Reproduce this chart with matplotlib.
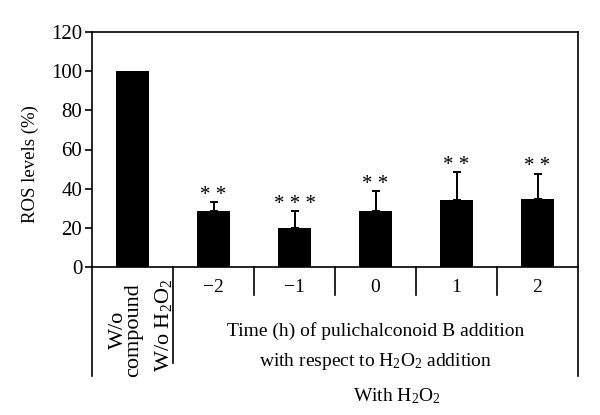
import matplotlib
matplotlib.use("Agg")
import matplotlib.pyplot as plt
from matplotlib.lines import Line2D

plt.rcParams['font.family'] = ['Liberation Serif', 'DejaVu Serif']
plt.rcParams['mathtext.fontset'] = 'custom'
plt.rcParams['mathtext.rm'] = 'Liberation Serif'
plt.rcParams['mathtext.it'] = 'Liberation Serif:italic'
plt.rcParams['mathtext.bf'] = 'Liberation Serif:bold'

# ---- data ----
categories = ["W/o compound W/o H2O2", "-2", "-1", "0", "1", "2"]
time_labels = ["\u22122", "\u22121", "0", "1", "2"]
ros_values = [100, 28.5, 20, 28.5, 34, 34.5]
ros_errors = [0, 4.5, 8.5, 10.2, 14.5, 13.2]
significance = ["", "* *", "* * *", "* *", "* *", "* *"]
yticks = [0, 20, 40, 60, 80, 100, 120]

fs = 14
fig = plt.figure(figsize=(6, 4.15), dpi=100)
ax = fig.add_axes([92/600, (415-267)/415, (578-92)/600, (267-32)/415])

x = list(range(len(ros_values)))
ax.bar(x, ros_values, width=0.41, color='black')
for xi, v, e in zip(x, ros_values, ros_errors):
    if e > 0:
        ax.errorbar([xi], [v], yerr=[[0], [e]], fmt='none', ecolor='black',
                    elinewidth=1.4, capsize=3, capthick=1.4)
for xi, v, e, s in zip(x, ros_values, ros_errors, significance):
    if s:
        ax.text(xi, v + e + 1.2, s, ha='center', va='baseline', fontsize=15)

ax.set_xlim(-0.5, len(x) - 0.5)
ax.set_ylim(0, 120)
ax.set_yticks(yticks)
ax.set_yticklabels([str(t) for t in yticks], fontsize=15)
ax.tick_params(axis='y', direction='out', length=5, width=1.2, pad=2)
ax.set_xticks([])
for sp in ax.spines.values():
    sp.set_linewidth(1.2)
ax.set_ylabel("ROS levels (%)", fontsize=13.5, labelpad=6)
ax.yaxis.set_label_coords(-0.109, (267-164)/235)

# ---- table-like x area ----
tr = ax.get_xaxis_transform()
def vline(xd, y0, y1):
    ax.add_line(Line2D([xd, xd], [y0, y1], transform=tr, color='black',
                       lw=1.2, clip_on=False))
y_bottom = -(376-267)/235
vline(-0.5, 0, y_bottom)
vline(len(x) - 0.5, 0, y_bottom)
vline(0.5, 0, -(363-267)/235)
for k in range(1, len(x) - 1):
    vline(k + 0.5, 0, -(295-267)/235)

for k, lab in enumerate(time_labels):
    ax.text(k + 1, -(287-267)/235, lab, transform=tr, ha='center', va='center', fontsize=fs)

ax.text(-0.08, -(330-267)/235, "W/o\ncompound", transform=tr, rotation=90,
        ha='center', va='center', fontsize=16, linespacing=0.75, multialignment='center')
ax.text(0.38, -(325-267)/235, r"W/o H$_2$O$_2$", transform=tr, rotation=90,
        ha='center', va='center', fontsize=16)

ax.text(3, -(331-267)/235, "Time (h) of pulichalconoid B addition", transform=tr,
        ha='center', va='center', fontsize=fs)
ax.text(3, -(361-267)/235, r"with respect to H$_2$O$_2$ addition", transform=tr,
        ha='center', va='center', fontsize=fs)
ax.text(3.27, -(396-267)/235, r"With H$_2$O$_2$", transform=tr,
        ha='center', va='center', fontsize=fs)

fig.savefig("out.png", dpi=100)
